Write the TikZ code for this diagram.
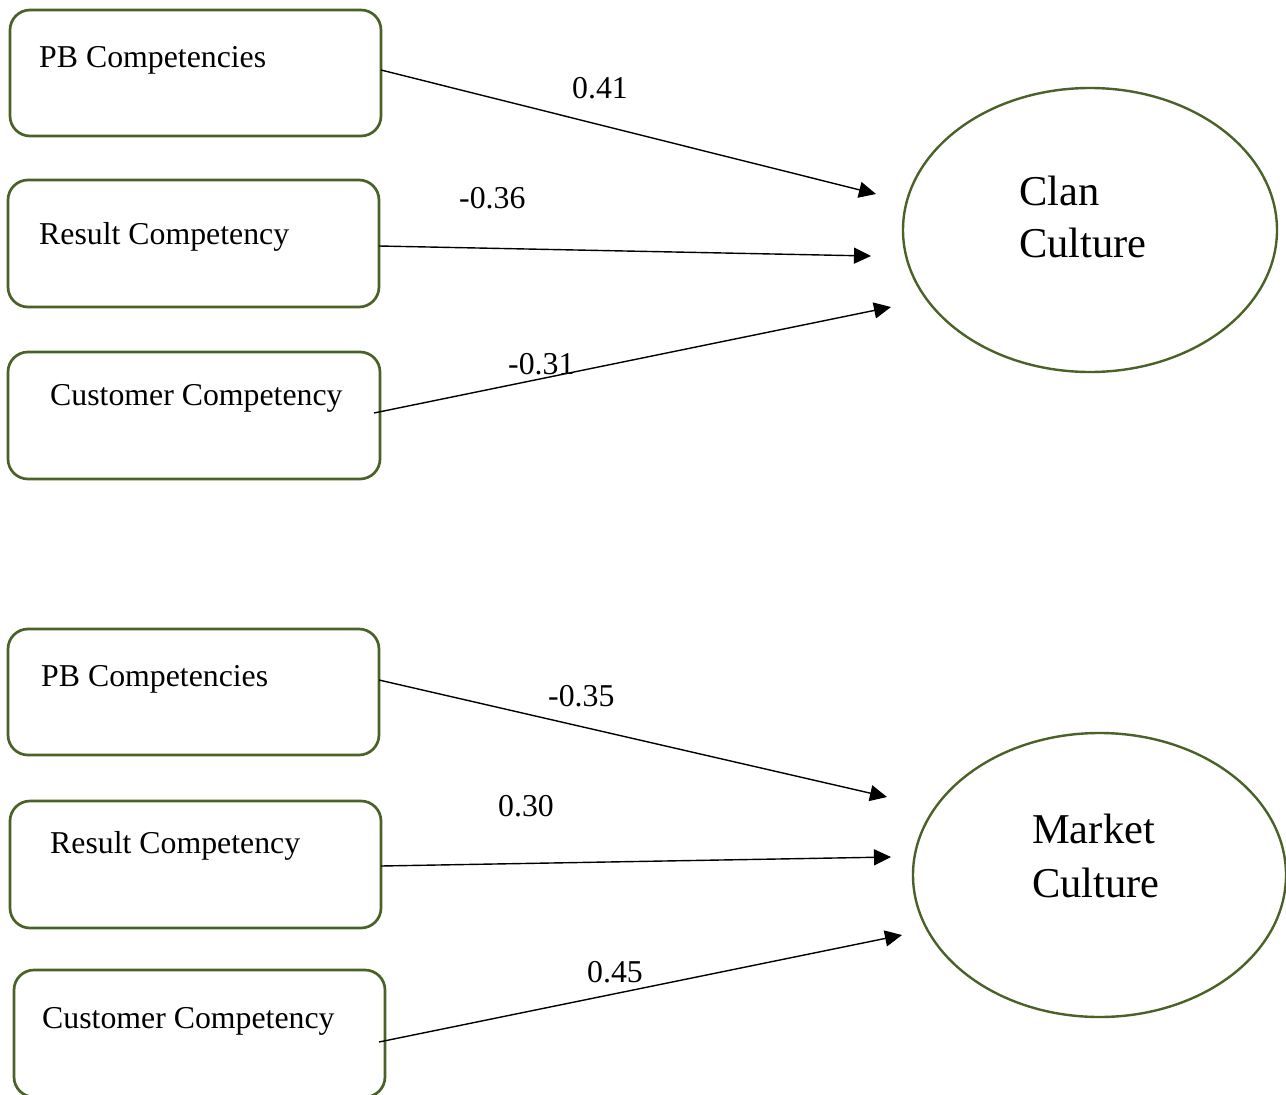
\documentclass[tikz,border=0pt]{standalone}
\usepackage{fontspec}
\setmainfont{Liberation Serif}
\usetikzlibrary{arrows.meta,shapes.geometric}
\definecolor{olivebd}{HTML}{4A6128}
\begin{document}
\begin{tikzpicture}[x=1pt,y=-1pt,
  boxnode/.style={draw=olivebd,line width=2.7pt,rounded corners=20pt,inner sep=0pt,outer sep=0pt,
    minimum width=371pt,minimum height=127pt},
  ovalnode/.style={ellipse,draw=olivebd,line width=2.4pt,inner sep=0pt,outer sep=0pt},
  txt/.style={inner sep=0pt,anchor=base west,font=\fontsize{31.8}{38}\selectfont},
  bigtxt/.style={inner sep=0pt,anchor=base west,font=\fontsize{42.5}{52}\selectfont},
  conn/.style={line width=1.4pt,-{Triangle[length=17pt,width=16pt]}}]
\useasboundingbox (0,0) rectangle (1286,1095);
% boxes
\node[boxnode,minimum height=126pt] (b1) at (195.5,73) {};
\node[boxnode] (b2) at (193.5,243.5) {};
\node[boxnode,minimum width=372pt] (b3) at (194,415.5) {};
\node[boxnode,minimum height=126pt] (b4) at (193.5,692) {};
\node[boxnode] (b5) at (195.5,864.5) {};
\node[boxnode] (b6) at (199.5,1033.5) {};
% box texts
\node[txt] (t1) at (39,67) {PB Competencies};
\node[txt] (t2) at (39,244) {Result Competency};
\node[txt] (t3) at (50,405) {Customer Competency};
\node[txt] (t4) at (41,686) {PB Competencies};
\node[txt] (t5) at (50,853) {Result Competency};
\node[txt] (t6) at (42,1028) {Customer Competency};
% ellipses
\node[ovalnode,minimum width=374pt,minimum height=284pt] (clan) at (1090,230) {};
\node[ovalnode,minimum width=373pt,minimum height=284pt] (market) at (1099.5,875) {};
\node[bigtxt] (clan1) at (1019,205) {Clan};
\node[bigtxt] (clan2) at (1019,257) {Culture};
\node[bigtxt] (mkt1) at (1032,843) {Market};
\node[bigtxt] (mkt2) at (1032,897) {Culture};
% arrow ends
\coordinate (e1) at (876,194);
\coordinate (e2) at (871,256);
\coordinate (e3) at (891,307);
\coordinate (e4) at (887,797);
\coordinate (e5) at (891,857);
\coordinate (e6) at (902,935);
% connectors
\draw[conn] ([yshift=3pt]b1.east) -- (e1);
\draw[conn] ([yshift=-2.5pt]b2.east) -- (e2);
\draw[conn] ([xshift=-6pt,yshift=2.5pt]b3.east) -- (e3);
\draw[conn] ([yshift=12pt]b4.east) -- (e4);
\draw[conn] ([yshift=-1.5pt]b5.east) -- (e5);
\draw[conn] ([xshift=-6pt,yshift=-8.5pt]b6.east) -- (e6);
% labels
\node[txt] (l1) at (572,98) {0.41};
\node[txt] (l2) at (459,208) {-0.36};
\node[txt] (l3) at (508,374) {-0.31};
\node[txt] (l4) at (548,706) {-0.35};
\node[txt] (l5) at (498,816) {0.30};
\node[txt] (l6) at (587,982) {0.45};
\end{tikzpicture}
\end{document}
